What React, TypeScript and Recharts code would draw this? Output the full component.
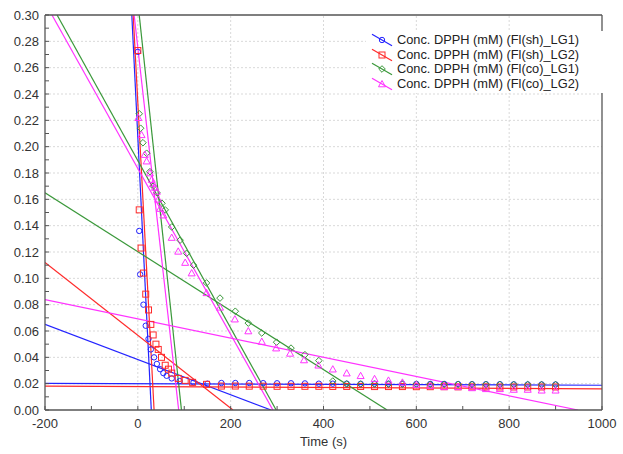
import { ComposedChart, Line, Scatter, XAxis, YAxis, ReferenceLine, Legend } from "recharts";

const FONT = '"Liberation Sans", Arial, sans-serif';
const AXIS = "#555555";
const TEXT = "#333333";

// sampling times (s) and measured DPPH concentration (mM) per extract
const shLG1Time = [0, 3, 5, 12, 17, 23, 28, 35, 41, 48, 55, 62, 73, 90, 120, 150, 180, 210, 240, 270, 300, 330, 360, 390, 420, 450, 480, 510, 540, 570, 600, 630, 660, 690, 720, 750, 780, 810, 840, 870, 900];
const shLG1Conc = [0.272, 0.136, 0.103, 0.08, 0.064, 0.054, 0.046, 0.04, 0.035, 0.031, 0.028, 0.026, 0.024, 0.022, 0.021, 0.02, 0.0205, 0.0205, 0.0205, 0.0204, 0.0203, 0.0203, 0.0202, 0.02, 0.02, 0.02, 0.0199, 0.02, 0.02, 0.0199, 0.0198, 0.0198, 0.0198, 0.0197, 0.0196, 0.0196, 0.0196, 0.0195, 0.0194, 0.0194, 0.0194];

const shLG2Time = [0, 3, 7, 12, 17, 23, 28, 33, 39, 44, 51, 59, 66, 73, 87, 102, 118, 148, 180, 210, 240, 270, 300, 330, 360, 390, 420, 450, 480, 510, 540, 570, 600, 630, 660, 690, 720, 750, 780, 810, 840, 870, 900];
const shLG2Conc = [0.273, 0.152, 0.123, 0.104, 0.088, 0.076, 0.065, 0.057, 0.05, 0.046, 0.04, 0.034, 0.031, 0.028, 0.024, 0.0225, 0.021, 0.0195, 0.0182, 0.0182, 0.0181, 0.0181, 0.018, 0.018, 0.018, 0.018, 0.0179, 0.0179, 0.0179, 0.0178, 0.0178, 0.0178, 0.0177, 0.0177, 0.0177, 0.0176, 0.0176, 0.0176, 0.0175, 0.0175, 0.0175, 0.0175, 0.0175];

const coLG1Time = [3, 6, 11, 19, 26, 33, 41, 52, 59, 73, 91, 105, 120, 148, 177, 210, 238, 267, 299, 330, 360, 390, 420, 450, 480, 510, 540, 570, 600, 630, 660, 690, 720, 750, 780, 810, 840, 870, 900];
const coLG1Conc = [0.225, 0.214, 0.203, 0.195, 0.181, 0.17, 0.165, 0.157, 0.152, 0.139, 0.129, 0.119, 0.11, 0.0965, 0.085, 0.075, 0.066, 0.0585, 0.0515, 0.047, 0.042, 0.0375, 0.022, 0.0198, 0.0197, 0.0197, 0.0196, 0.0196, 0.0196, 0.0195, 0.0195, 0.0195, 0.0194, 0.0194, 0.0194, 0.0193, 0.0193, 0.0193, 0.0193];

const coLG2Time = [1, 8, 15, 19, 26, 30, 33, 37, 41, 44, 48, 55, 73, 87, 102, 116, 148, 177, 209, 238, 267, 298, 328, 358, 389, 420, 450, 480, 510, 540, 570, 600, 630, 660, 690, 720, 750, 780, 810, 840, 870, 900];
const coLG2Conc = [0.222, 0.209, 0.194, 0.189, 0.18, 0.175, 0.172, 0.169, 0.166, 0.16, 0.153, 0.148, 0.131, 0.1205, 0.112, 0.104, 0.089, 0.078, 0.069, 0.06, 0.052, 0.047, 0.043, 0.038, 0.034, 0.031, 0.028, 0.026, 0.0237, 0.0225, 0.021, 0.0193, 0.0186, 0.0176, 0.0176, 0.0168, 0.0161, 0.0161, 0.0156, 0.0156, 0.015, 0.015];

// fitted straight segments: [t start, conc start, t end, conc end]
const shLG1Fits = [[-13, 0.3, 29, 0], [-200, 0.065, 287, 0], [-200, 0.0202, 1000, 0.0188]];
const shLG2Fits = [[-10, 0.3, 35, 0], [-200, 0.112, 205, 0], [-200, 0.0182, 1000, 0.0161]];
const coLG1Fits = [[3, 0.3, 94, 0], [-174, 0.3, 298, 0], [-200, 0.165, 537, 0]];
const coLG2Fits = [[-8, 0.3, 88, 0], [-185, 0.3, 291, 0], [-200, 0.0838, 948, 0]];

const X_TICKS = [-200, -100, 0, 100, 200, 300, 400, 500, 600, 700, 800, 900, 1000];
const X_GRID = [0, 200, 400, 600, 800];
const Y_TICKS = [0, 0.01, 0.02, 0.03, 0.04, 0.05, 0.06, 0.07, 0.08, 0.09, 0.1, 0.11, 0.12, 0.13, 0.14, 0.15, 0.16, 0.17, 0.18, 0.19, 0.2, 0.21, 0.22, 0.23, 0.24, 0.25, 0.26, 0.27, 0.28, 0.29, 0.3];
const Y_MAJOR = [0, 0.02, 0.04, 0.06, 0.08, 0.1, 0.12, 0.14, 0.16, 0.18, 0.2, 0.22, 0.24, 0.26, 0.28, 0.3];
const Y_GRID = [0.02, 0.04, 0.06, 0.08, 0.1, 0.12, 0.14, 0.16, 0.18, 0.2, 0.22, 0.24, 0.26, 0.28];

type Kind = "circle" | "square" | "diamond" | "triangle";

const toPoints = (ts: number[], cs: number[]) => ts.map((t, i) => ({ t, c: cs[i] }));
const toSegments = (fits: number[][]) =>
  fits.map(([t1, c1, t2, c2]) => [
    { t: t1, c: c1 },
    { t: t2, c: c2 },
  ]);

const SERIES = [
  { name: "Conc. DPPH (mM) (Fl(sh)_LG1)", color: "#2424ff", kind: "circle" as Kind, points: toPoints(shLG1Time, shLG1Conc), fits: toSegments(shLG1Fits) },
  { name: "Conc. DPPH (mM) (Fl(sh)_LG2)", color: "#ff2a2a", kind: "square" as Kind, points: toPoints(shLG2Time, shLG2Conc), fits: toSegments(shLG2Fits) },
  { name: "Conc. DPPH (mM) (Fl(co)_LG1)", color: "#3a983a", kind: "diamond" as Kind, points: toPoints(coLG1Time, coLG1Conc), fits: toSegments(coLG1Fits) },
  { name: "Conc. DPPH (mM) (Fl(co)_LG2)", color: "#ff33ff", kind: "triangle" as Kind, points: toPoints(coLG2Time, coLG2Conc), fits: toSegments(coLG2Fits) },
];

function Marker({ kind, cx, cy, color }: { kind: Kind; cx: number; cy: number; color: string }) {
  const common = { fill: "none", stroke: color, strokeWidth: 1 };
  if (kind === "circle") return <circle cx={cx} cy={cy} r={2.7} {...common} />;
  if (kind === "square") return <rect x={cx - 3} y={cy - 3} width={6} height={6} {...common} />;
  if (kind === "diamond")
    return <polygon points={`${cx},${cy - 3.3} ${cx + 3.3},${cy} ${cx},${cy + 3.3} ${cx - 3.3},${cy}`} {...common} />;
  return <polygon points={`${cx},${cy - 3.5} ${cx + 3.5},${cy + 2.8} ${cx - 3.5},${cy + 2.8}`} {...common} />;
}

function LegendBox() {
  return (
    <div style={{ background: "#fff", padding: "2px 4px 2px 2px", fontFamily: FONT, fontSize: 12.8, color: "#222" }}>
      {SERIES.map((s) => (
        <div key={s.name} style={{ display: "flex", alignItems: "center", height: 14.5 }}>
          <svg width={29} height={14} style={{ flexShrink: 0 }}>
            <line x1={4} y1={1.2} x2={24} y2={12.8} stroke={s.color} strokeWidth={1.2} />
            <Marker kind={s.kind} cx={14} cy={7} color={s.color} />
          </svg>
          <span style={{ whiteSpace: "nowrap", lineHeight: "14.5px" }}>{s.name}</span>
        </div>
      ))}
    </div>
  );
}

const tickStyle = { fill: TEXT, fontSize: 13, fontFamily: FONT };

export default function App() {
  return (
    <div style={{ position: "absolute", left: 0, top: 0, width: 623, height: 454, background: "#fff" }}>
      <ComposedChart width={623} height={454} margin={{ top: 14, right: 20, bottom: 0, left: 0 }}>
        <XAxis
          xAxisId="main"
          type="number"
          dataKey="t"
          domain={[-200, 1000]}
          allowDataOverflow
          ticks={X_TICKS}
          interval={0}
          height={44}
          tickSize={-4}
          tickMargin={13}
          tick={tickStyle}
          tickFormatter={(v: number) => (v % 200 === 0 ? String(v) : "")}
          axisLine={{ stroke: AXIS, strokeWidth: 1.3 }}
          tickLine={{ stroke: AXIS }}
          label={{ value: "Time (s)", position: "insideBottom", offset: 8, fill: TEXT, fontSize: 13, fontFamily: FONT }}
        />
        <XAxis
          xAxisId="top"
          orientation="top"
          type="number"
          domain={[-200, 1000]}
          allowDataOverflow
          ticks={X_TICKS}
          interval={0}
          height={1}
          tickSize={-4}
          tick={false}
          axisLine={{ stroke: AXIS, strokeWidth: 1.3 }}
          tickLine={{ stroke: AXIS }}
        />
        <YAxis
          yAxisId="main"
          type="number"
          dataKey="c"
          domain={[0, 0.3]}
          allowDataOverflow
          ticks={Y_TICKS}
          interval={0}
          width={45}
          tickSize={-4}
          tickMargin={10}
          tick={tickStyle}
          tickFormatter={(v: number) => (Math.round(v * 100) % 2 === 0 ? v.toFixed(2) : "")}
          axisLine={{ stroke: AXIS, strokeWidth: 1.3 }}
          tickLine={{ stroke: AXIS }}
        />
        <YAxis
          yAxisId="right"
          orientation="right"
          type="number"
          domain={[0, 0.3]}
          allowDataOverflow
          ticks={Y_MAJOR}
          interval={0}
          width={1}
          tickSize={-4}
          tick={false}
          axisLine={{ stroke: AXIS, strokeWidth: 1.3 }}
          tickLine={{ stroke: AXIS }}
        />

        {X_GRID.map((v) => (
          <ReferenceLine key={`gx${v}`} x={v} xAxisId="main" yAxisId="main" stroke="#d9d9d9" strokeDasharray="2 2" />
        ))}
        {Y_GRID.map((v) => (
          <ReferenceLine key={`gy${v}`} y={v} xAxisId="main" yAxisId="main" stroke="#d9d9d9" strokeDasharray="2 2" />
        ))}

        {SERIES.map((s) =>
          s.fits.map((seg, i) => (
            <Line
              key={`${s.name}-fit${i}`}
              xAxisId="main"
              yAxisId="main"
              data={seg}
              dataKey="c"
              type="linear"
              stroke={s.color}
              strokeWidth={1.2}
              dot={false}
              activeDot={false}
              legendType="none"
              isAnimationActive={false}
            />
          )),
        )}

        {SERIES.map((s) => (
          <Scatter
            key={`${s.name}-pts`}
            name={s.name}
            xAxisId="main"
            yAxisId="main"
            data={s.points}
            dataKey="c"
            isAnimationActive={false}
            shape={(p: any) => <Marker kind={s.kind} cx={p.cx} cy={p.cy} color={s.color} />}
          />
        ))}

        <Legend
          layout="vertical"
          align="center"
          verticalAlign="middle"
          content={() => <LegendBox />}
          wrapperStyle={{ left: 366, top: 31, width: 238, height: 64 }}
        />
      </ComposedChart>
    </div>
  );
}
